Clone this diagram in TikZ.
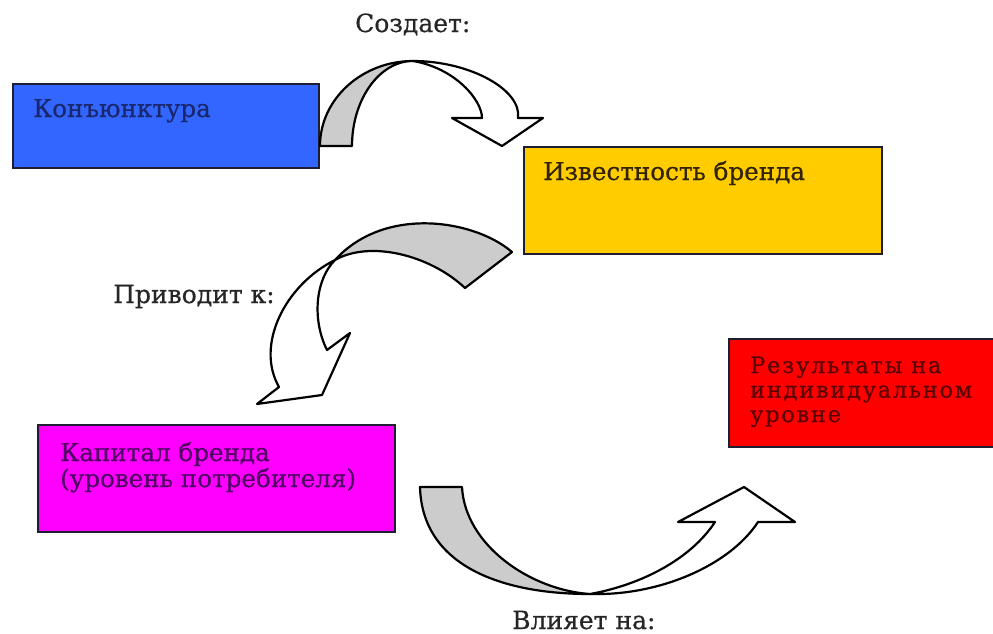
\documentclass[tikz,border=0pt]{standalone}
\usepackage{fontspec}
\setmainfont{DejaVu Serif}[FakeBold=0.6]
\definecolor{kblue}{RGB}{51,102,255}
\definecolor{kyellow}{RGB}{255,204,0}
\definecolor{kmag}{RGB}{255,0,255}
\definecolor{kred}{RGB}{255,0,0}
\definecolor{boxline}{RGB}{30,30,50}
\definecolor{arrgray}{RGB}{204,204,204}
\definecolor{tblue}{RGB}{25,40,110}
\definecolor{tyellow}{RGB}{50,35,0}
\definecolor{tmag}{RGB}{80,0,100}
\definecolor{tred}{RGB}{90,0,0}
\begin{document}
\begin{tikzpicture}[x=1pt,y=-1pt,
  box/.style={draw=boxline, line width=2pt, anchor=north west, inner sep=0pt},
  txt/.style={anchor=base west, inner sep=0pt, font=\fontsize{24.6}{26}\selectfont, align=left},
  lbl/.style={anchor=base west, inner sep=0pt, font=\fontsize{25}{29}\selectfont, text=black!85},
  shade/.style={draw=black, line width=2.2pt, fill=arrgray, line join=round},
  front/.style={draw=black, line width=2.2pt, fill=white, line join=round}]
\useasboundingbox (0,0) rectangle (993,633);

% boxes
\node[box, fill=kblue, minimum width=306pt, minimum height=84pt] (b1) at (12,83) {};
\node[box, fill=kyellow, minimum width=358pt, minimum height=107pt] (b2) at (523,146) {};
\node[box, fill=kmag, minimum width=357pt, minimum height=107pt] (b3) at (37,424) {};
\node[box, fill=kred, minimum width=280pt, minimum height=108pt] (b4) at (728,338) {};

% box texts (base anchor = last line)
\node[txt, text=tblue] (t1) at (33,117) {Конъюнктура};
\node[txt, text=tyellow] (t2) at (543,180) {Известность бренда};
\node[txt, text=tmag] (t3) at (60,487) {Капитал бренда\\(уровень потребителя)};
\node[txt, text=tred, font=\fontsize{22.4}{24.5}\selectfont\addfontfeature{LetterSpace=8}] (t4) at (750,422) {Результаты на\\индивидуальном\\уровне};

% labels
\node[lbl] (l1) at (355,32) {Создает:};
\node[lbl] (l2) at (113,303) {Приводит к:};
\node[lbl] (l3) at (512,629) {Влияет на:};

% arrow 1 (top)
\coordinate (a1) at (413,61);
\filldraw[shade] (320,146) .. controls (320,99) and (362,61) .. (a1)
  .. controls (379,61) and (352,100) .. (352,146) -- cycle;
\filldraw[front] (a1) .. controls (470,61) and (522,90) .. (518,118)
  -- (543,118) -- (502,146) -- (452,118) -- (482,118)
  .. controls (482,100) and (455,68) .. (a1) -- cycle;

% arrow 2 (middle)
\coordinate (a2) at (335,260);
\filldraw[shade] (512,252) .. controls (475,220) and (385,205) .. (a2)
  .. controls (370,240) and (430,255) .. (465,288) -- cycle;
\filldraw[front] (a2) .. controls (285,285) and (255,345) .. (279,387)
  -- (257,404) -- (322,395) -- (350,333) -- (327,350)
  .. controls (312,320) and (315,280) .. (a2) -- cycle;

% arrow 3 (bottom)
\coordinate (a3) at (590,594);
\filldraw[shade] (420,487) .. controls (422,565) and (500,594) .. (a3)
  .. controls (530,590) and (465,545) .. (462,487) -- cycle;
\filldraw[front] (a3) .. controls (660,596) and (730,565) .. (758,522)
  -- (795,522) -- (744,487) -- (678,522) -- (715,522)
  .. controls (690,560) and (640,585) .. (a3) -- cycle;
\end{tikzpicture}
\end{document}
